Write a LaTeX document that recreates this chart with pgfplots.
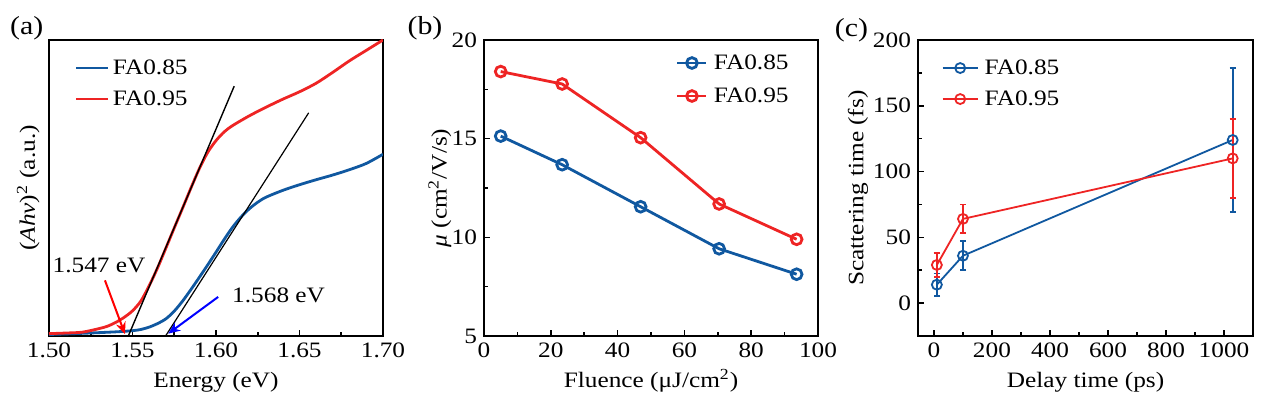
\documentclass[border=0pt]{standalone}
\usepackage{fontspec}
\setmainfont{Liberation Serif}[FakeStretch=1.15]
\usepackage{pgfplots}
\pgfplotsset{compat=1.18}
\usetikzlibrary{arrows.meta}
\definecolor{cblue}{RGB}{16,88,160}
\definecolor{cred}{RGB}{238,36,36}
\pgfplotsset{
  common/.style={
    scale only axis, width=167pt, height=148pt, anchor=south west,
    axis line style={line width=1pt},
    every tick/.style={line width=0.8pt, black},
    tick align=inside,
    xtick pos=bottom, ytick pos=left,
    major tick length=3pt, minor tick length=1.8pt,
    minor x tick num=1, minor y tick num=1,
    tick label style={font=\fontsize{11}{13}\selectfont},
    label style={font=\fontsize{11}{13}\selectfont},
    /pgf/number format/assume math mode=true,
    /pgf/number format/1000 sep={},
    xlabel style={at={([yshift=-25.8pt]axis description cs:0.5,0)}, anchor=base},
    legend cell align=left,
    legend style={draw=none, fill=none, font=\fontsize{11}{13}\selectfont,
      inner sep=0pt, outer sep=0pt,
      nodes={inner sep=0pt, text height=8pt, text depth=2pt}},
  }
}
\begin{document}
\begin{tikzpicture}
% ---------------- (a)
\begin{axis}[common, at={(24.5pt,35pt)},
  xmin=1.5, xmax=1.7, ymin=0, ymax=1,
  xtick={1.50,1.55,1.60,1.65,1.70}, ytick=\empty,
  xticklabel style={/pgf/number format/.cd, fixed, fixed zerofill, precision=2},
  xlabel={Energy (eV)},
  ylabel={(\textit{Ahν})\textsuperscript{2} (a.u.)},
  ylabel style={at={([xshift=-7pt]axis description cs:0,0.5)}, anchor=base},
  legend image code/.code={\draw[#1] (0pt,0pt) -- (16pt,0pt);},
  legend style={at={(axis description cs:0.078,0.939)}, anchor=north west, column sep=1.5pt, row sep=5.5pt},
]
\addplot[cblue, line width=1.4pt, smooth] coordinates {
(1.500,0.005)(1.520,0.009)(1.540,0.014)(1.550,0.018)(1.555,0.022)(1.560,0.030)(1.565,0.042)(1.570,0.058)(1.575,0.084)(1.580,0.118)(1.585,0.157)(1.590,0.198)(1.595,0.240)(1.600,0.283)(1.605,0.327)(1.610,0.368)(1.615,0.402)(1.620,0.430)(1.625,0.452)(1.630,0.469)(1.640,0.492)(1.650,0.511)(1.660,0.528)(1.670,0.544)(1.680,0.562)(1.690,0.583)(1.700,0.614)};
\addlegendentry{FA0.85}
\addplot[cred, line width=1.4pt, smooth] coordinates {
(1.500,0.008)(1.510,0.010)(1.520,0.013)(1.530,0.025)(1.535,0.033)(1.540,0.046)(1.545,0.063)(1.550,0.085)(1.555,0.118)(1.560,0.170)(1.565,0.230)(1.570,0.297)(1.575,0.365)(1.580,0.432)(1.585,0.500)(1.590,0.565)(1.595,0.620)(1.600,0.660)(1.605,0.690)(1.610,0.711)(1.620,0.744)(1.630,0.773)(1.640,0.800)(1.650,0.825)(1.660,0.854)(1.670,0.891)(1.680,0.930)(1.690,0.965)(1.700,1.000)};
\addlegendentry{FA0.95}
\addplot[black, line width=0.7pt, forget plot] coordinates {(1.5475,0) (1.6109,0.844)};
\addplot[black, line width=0.6pt, forget plot] coordinates {(1.5698,0) (1.6555,0.754)};
\draw[red, line width=1pt, -{Stealth[length=6pt,width=5pt]}] (axis cs:1.5335,0.188) -- (axis cs:1.5455,0.006);
\draw[blue, line width=1pt, -{Stealth[length=6pt,width=5pt]}] (axis cs:1.6013,0.132) -- (axis cs:1.5714,0.008);
\node[font=\fontsize{11}{13}\selectfont] at (axis cs:1.530,0.24) {1.547 eV};
\node[font=\fontsize{11}{13}\selectfont, anchor=west] at (axis cs:1.6055,0.137) {1.568 eV};
\end{axis}
% ---------------- (b)
\begin{axis}[common, at={(242pt,35pt)},
  xmin=0, xmax=100, ymin=5, ymax=20,
  xtick={0,20,...,100}, ytick={5,10,15,20},
  xlabel={Fluence (μJ/cm\textsuperscript{2})},
  ylabel={\textit{μ} (cm\textsuperscript{2}/V/s)},
  ylabel style={at={([xshift=-18.7pt]axis description cs:0,0.5)}, anchor=base},
  legend image code/.code={\draw[mark repeat=2, mark phase=2, #1] plot coordinates {(0pt,0pt) (7.25pt,0pt) (14.5pt,0pt)};},
  legend style={at={(axis description cs:0.575,0.956)}, anchor=north west, column sep=3pt, row sep=6.5pt},
]
\addplot[cblue, line width=1.4pt, mark=o, mark size=2.7pt, mark options={fill=white, line width=1.4pt}] coordinates {
(5,15.13)(23.4,13.68)(46.9,11.55)(70.4,9.42)(93.6,8.13)};
\addlegendentry{FA0.85}
\addplot[cred, line width=1.4pt, mark=o, mark size=2.7pt, mark options={fill=white, line width=1.4pt}] coordinates {
(5,18.40)(23.4,17.77)(46.9,15.05)(70.4,11.69)(93.6,9.90)};
\addlegendentry{FA0.95}
\end{axis}
% ---------------- (c)
\begin{axis}[common, at={(459pt,35pt)}, width=167.5pt,
  xmin=-55, xmax=1100, ymin=-25, ymax=200,
  xtick={0,200,...,1000}, ytick={0,50,...,200},
  xlabel={Delay time (ps)},
  ylabel={Scattering time (fs)},
  ylabel style={at={([xshift=-27.3pt]axis description cs:0,0.5)}, anchor=base},
  legend image code/.code={\draw[mark repeat=2, mark phase=2, #1] plot coordinates {(0pt,0pt) (8.75pt,0pt) (17.5pt,0pt)};},
  legend style={at={(axis description cs:0.071,0.939)}, anchor=north west, column sep=3pt, row sep=5.5pt},
]
\addplot[cblue, line width=0.9pt, mark=o, mark size=2.5pt, mark options={fill=white, line width=0.9pt},
  error bars/.cd, y dir=both, y explicit, error bar style={line width=0.9pt},
  error mark options={rotate=90, mark size=1.6pt, line width=0.9pt}] coordinates {
(10,14) +- (0,8.5)
(100,36) +- (0,11)
(1030,124) +- (0,55)};
\addlegendentry{FA0.85}
\addplot[cred, line width=0.9pt, mark=o, mark size=2.5pt, mark options={fill=white, line width=0.9pt},
  error bars/.cd, y dir=both, y explicit, error bar style={line width=0.9pt},
  error mark options={rotate=90, mark size=1.6pt, line width=0.9pt}] coordinates {
(10,29) +- (0,9)
(100,64) +- (0,11)
(1030,110) +- (0,30)};
\addlegendentry{FA0.95}
\end{axis}
% panel labels
\node[font=\fontsize{13}{15}\selectfont] at (13.35pt,189pt) {(a)};
\node[font=\fontsize{13}{15}\selectfont] at (212.5pt,189pt) {(b)};
\node[font=\fontsize{13}{15}\selectfont] at (425.75pt,188pt) {(c)};
\pgfresetboundingbox
\path (0pt,0pt) rectangle (634.5pt,203pt);
\end{tikzpicture}
\end{document}
